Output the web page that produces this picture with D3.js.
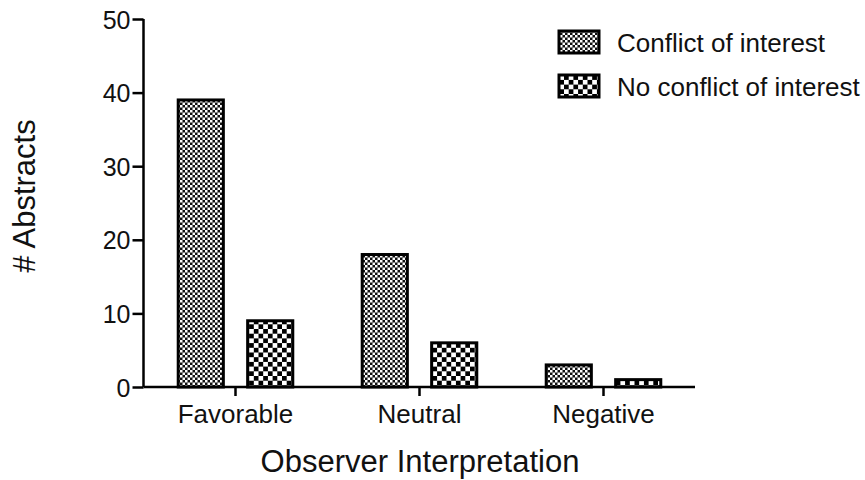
<!DOCTYPE html>
<html><head><meta charset="utf-8">
<script src="https://cdn.jsdelivr.net/npm/d3@7"></script>
<style>body{margin:0;background:#fff;} text{font-family:"Liberation Sans",Arial,sans-serif;fill:#111;}</style>
</head><body><svg id="c" width="865" height="480"></svg>
<script>
const categories = ["Favorable", "Neutral", "Negative"];
const seriesNames = ["Conflict of interest", "No conflict of interest"];
const conflictValues = [39, 18, 3];
const noConflictValues = [9, 6, 1];
const yTicks = [0, 10, 20, 30, 40, 50];

const svg = d3.select("#c");
const defs = svg.append("defs");
// fine checker
const p1 = defs.append("pattern").attr("id","p0").attr("patternUnits","userSpaceOnUse").attr("width",5).attr("height",5);
p1.append("rect").attr("width",5).attr("height",5).attr("fill","#111");
p1.append("rect").attr("width",2.5).attr("height",2.5).attr("fill","#fff");
p1.append("rect").attr("x",2.5).attr("y",2.5).attr("width",2.5).attr("height",2.5).attr("fill","#fff");
// coarse checker
const s = 4.7;
const p2 = defs.append("pattern").attr("id","p1").attr("patternUnits","userSpaceOnUse").attr("width",2*s).attr("height",2*s);
p2.append("rect").attr("width",2*s).attr("height",2*s).attr("fill","#fff");
p2.append("rect").attr("width",s).attr("height",s).attr("fill","#000");
p2.append("rect").attr("x",s).attr("y",s).attr("width",s).attr("height",s).attr("fill","#000");

const mLeft = 143.5, mRight = 695, mTop = 19, mBottom = 387;
const x = d3.scaleBand().domain(categories).range([mLeft, mLeft + 3*184]).padding(0);
const x1 = d3.scaleBand().domain([0,1]).range([0, x.bandwidth()]).paddingInner(0.35).paddingOuter(0.5);
const y = d3.scaleLinear().domain([0,50]).range([mBottom, mTop]);

const data = categories.map((c,i)=>({c, vals:[conflictValues[i], noConflictValues[i]]}));
const g = svg.append("g");
data.forEach(d=>{
  d.vals.forEach((v,j)=>{
    g.append("rect")
      .attr("x", x(d.c)+x1(j)).attr("width", x1.bandwidth())
      .attr("y", y(v)).attr("height", y(0)-y(v))
      .attr("fill", `url(#p${j})`).attr("stroke","#000").attr("stroke-width",3);
  });
});

// y axis
const ya = svg.append("g").attr("transform",`translate(${mLeft},0)`)
  .call(d3.axisLeft(y).tickValues(yTicks).tickSize(11).tickPadding(2));
ya.select(".domain").attr("stroke-width",2.5).attr("d",`M0,${mTop}V${mBottom}`);
ya.selectAll(".tick line").attr("stroke-width",2.5);
ya.selectAll(".tick text").style("font-size","25px").attr("fill","#111").attr("dy","0.36em");

// x axis
const xa = svg.append("g").attr("transform",`translate(0,${mBottom})`)
  .call(d3.axisBottom(x).tickSize(9));
xa.select(".domain").attr("stroke-width",2.5).attr("d",`M${mLeft},0H${mRight}`);
xa.selectAll(".tick line").attr("stroke-width",2.5);
xa.selectAll(".tick text").style("font-size","26px").attr("fill","#111").attr("y",36).attr("dy",0);

svg.append("text").attr("x",420).attr("y",472).attr("text-anchor","middle")
  .style("font-size","31px").text("Observer Interpretation");
svg.append("text").attr("transform","translate(35,196) rotate(-90)").attr("text-anchor","middle")
  .style("font-size","31px").text("# Abstracts");

// legend
seriesNames.forEach((n,i)=>{
  const ly = 31 + i*44;
  svg.append("rect").attr("x",559).attr("y",ly).attr("width",40).attr("height",22)
    .attr("fill",`url(#p${i})`).attr("stroke","#000").attr("stroke-width",3);
  svg.append("text").attr("x",617).attr("y",ly+21).style("font-size","26px").text(n);
});
</script></body></html>
